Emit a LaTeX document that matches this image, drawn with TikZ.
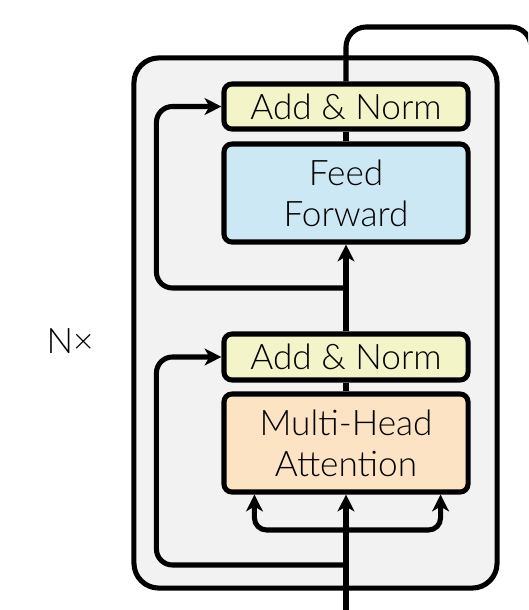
\documentclass[tikz,border=0pt]{standalone}
\usepackage{fontspec}
\setmainfont{Lato}[UprightFont=* Light]
\definecolor{tfgray}{RGB}{242,242,242}
\definecolor{tfyellow}{RGB}{243,244,199}
\definecolor{tfblue}{RGB}{205,232,245}
\definecolor{tforange}{RGB}{251,227,196}
\usetikzlibrary{arrows.meta,positioning,calc}

\begin{document}
\begin{tikzpicture}[x=0.025cm,y=-0.025cm,
    layer/.style={draw,line width=3.6pt,rounded corners=0.2cm,minimum width=6.1cm,
        inner sep=0pt,align=center,font=\fontsize{25}{29}\selectfont},
    link/.style={line width=3.6pt},
    arr/.style={link,-{Stealth[length=0.42cm,width=0.42cm,inset=0.12cm]}}]
  \clip (0,0) rectangle (528,610);
  \fill[white] (0,0) rectangle (528,610);
  % Encoder block
  \node[draw,fill=tfgray,line width=3.6pt,rounded corners=0.62cm,
        minimum width=9.075cm,minimum height=13.25cm] (block) at (315.5,323) {};
  \node[font=\fontsize{25}{29}\selectfont] (nx) at (70,341) {N×};
  % Sub-layers
  \node[layer,fill=tforange,minimum height=2.45cm] (mha) at (346,443) {Multi-Head\\Attention};
  \node[layer,fill=tfyellow,minimum height=1.15cm] (an1) at (346,357) {Add \& Norm};
  \node[layer,fill=tfblue,minimum height=2.45cm] (ff) at (346,193) {Feed\\Forward};
  \node[layer,fill=tfyellow,minimum height=1.125cm] (an2) at (346,106.5) {Add \& Norm};
  % Helper points
  \coordinate (in) at (346,615);
  \coordinate (split) at (346,530);
  \coordinate (res1) at (346,565);
  \coordinate (res2) at (346,288);
  \coordinate (outtop) at (531,27);
  \coordinate (out) at (531,130);
  % Inputs to attention
  \draw[arr] (in) -- (mha.south);
  \draw[arr,rounded corners=0.3cm] (split) -| ([xshift=0.825cm]mha.south west);
  \draw[arr,rounded corners=0.3cm] (split) -| ([xshift=-0.75cm]mha.south east);
  % Residual paths
  \draw[arr,rounded corners=0.4cm] (res1) -| ([xshift=-1.625cm]an1.west) -- (an1.west);
  \draw[arr,rounded corners=0.4cm] (res2) -| ([xshift=-1.625cm]an2.west) -- (an2.west);
  % Main flow
  \draw[link] (mha.north) -- (an1.south);
  \draw[arr] (an1.north) -- (ff.south);
  \draw[link] (ff.north) -- (an2.south);
  \draw[link,rounded corners=0.5cm] (an2.north) |- (outtop) -- (out);
\end{tikzpicture}
\end{document}
